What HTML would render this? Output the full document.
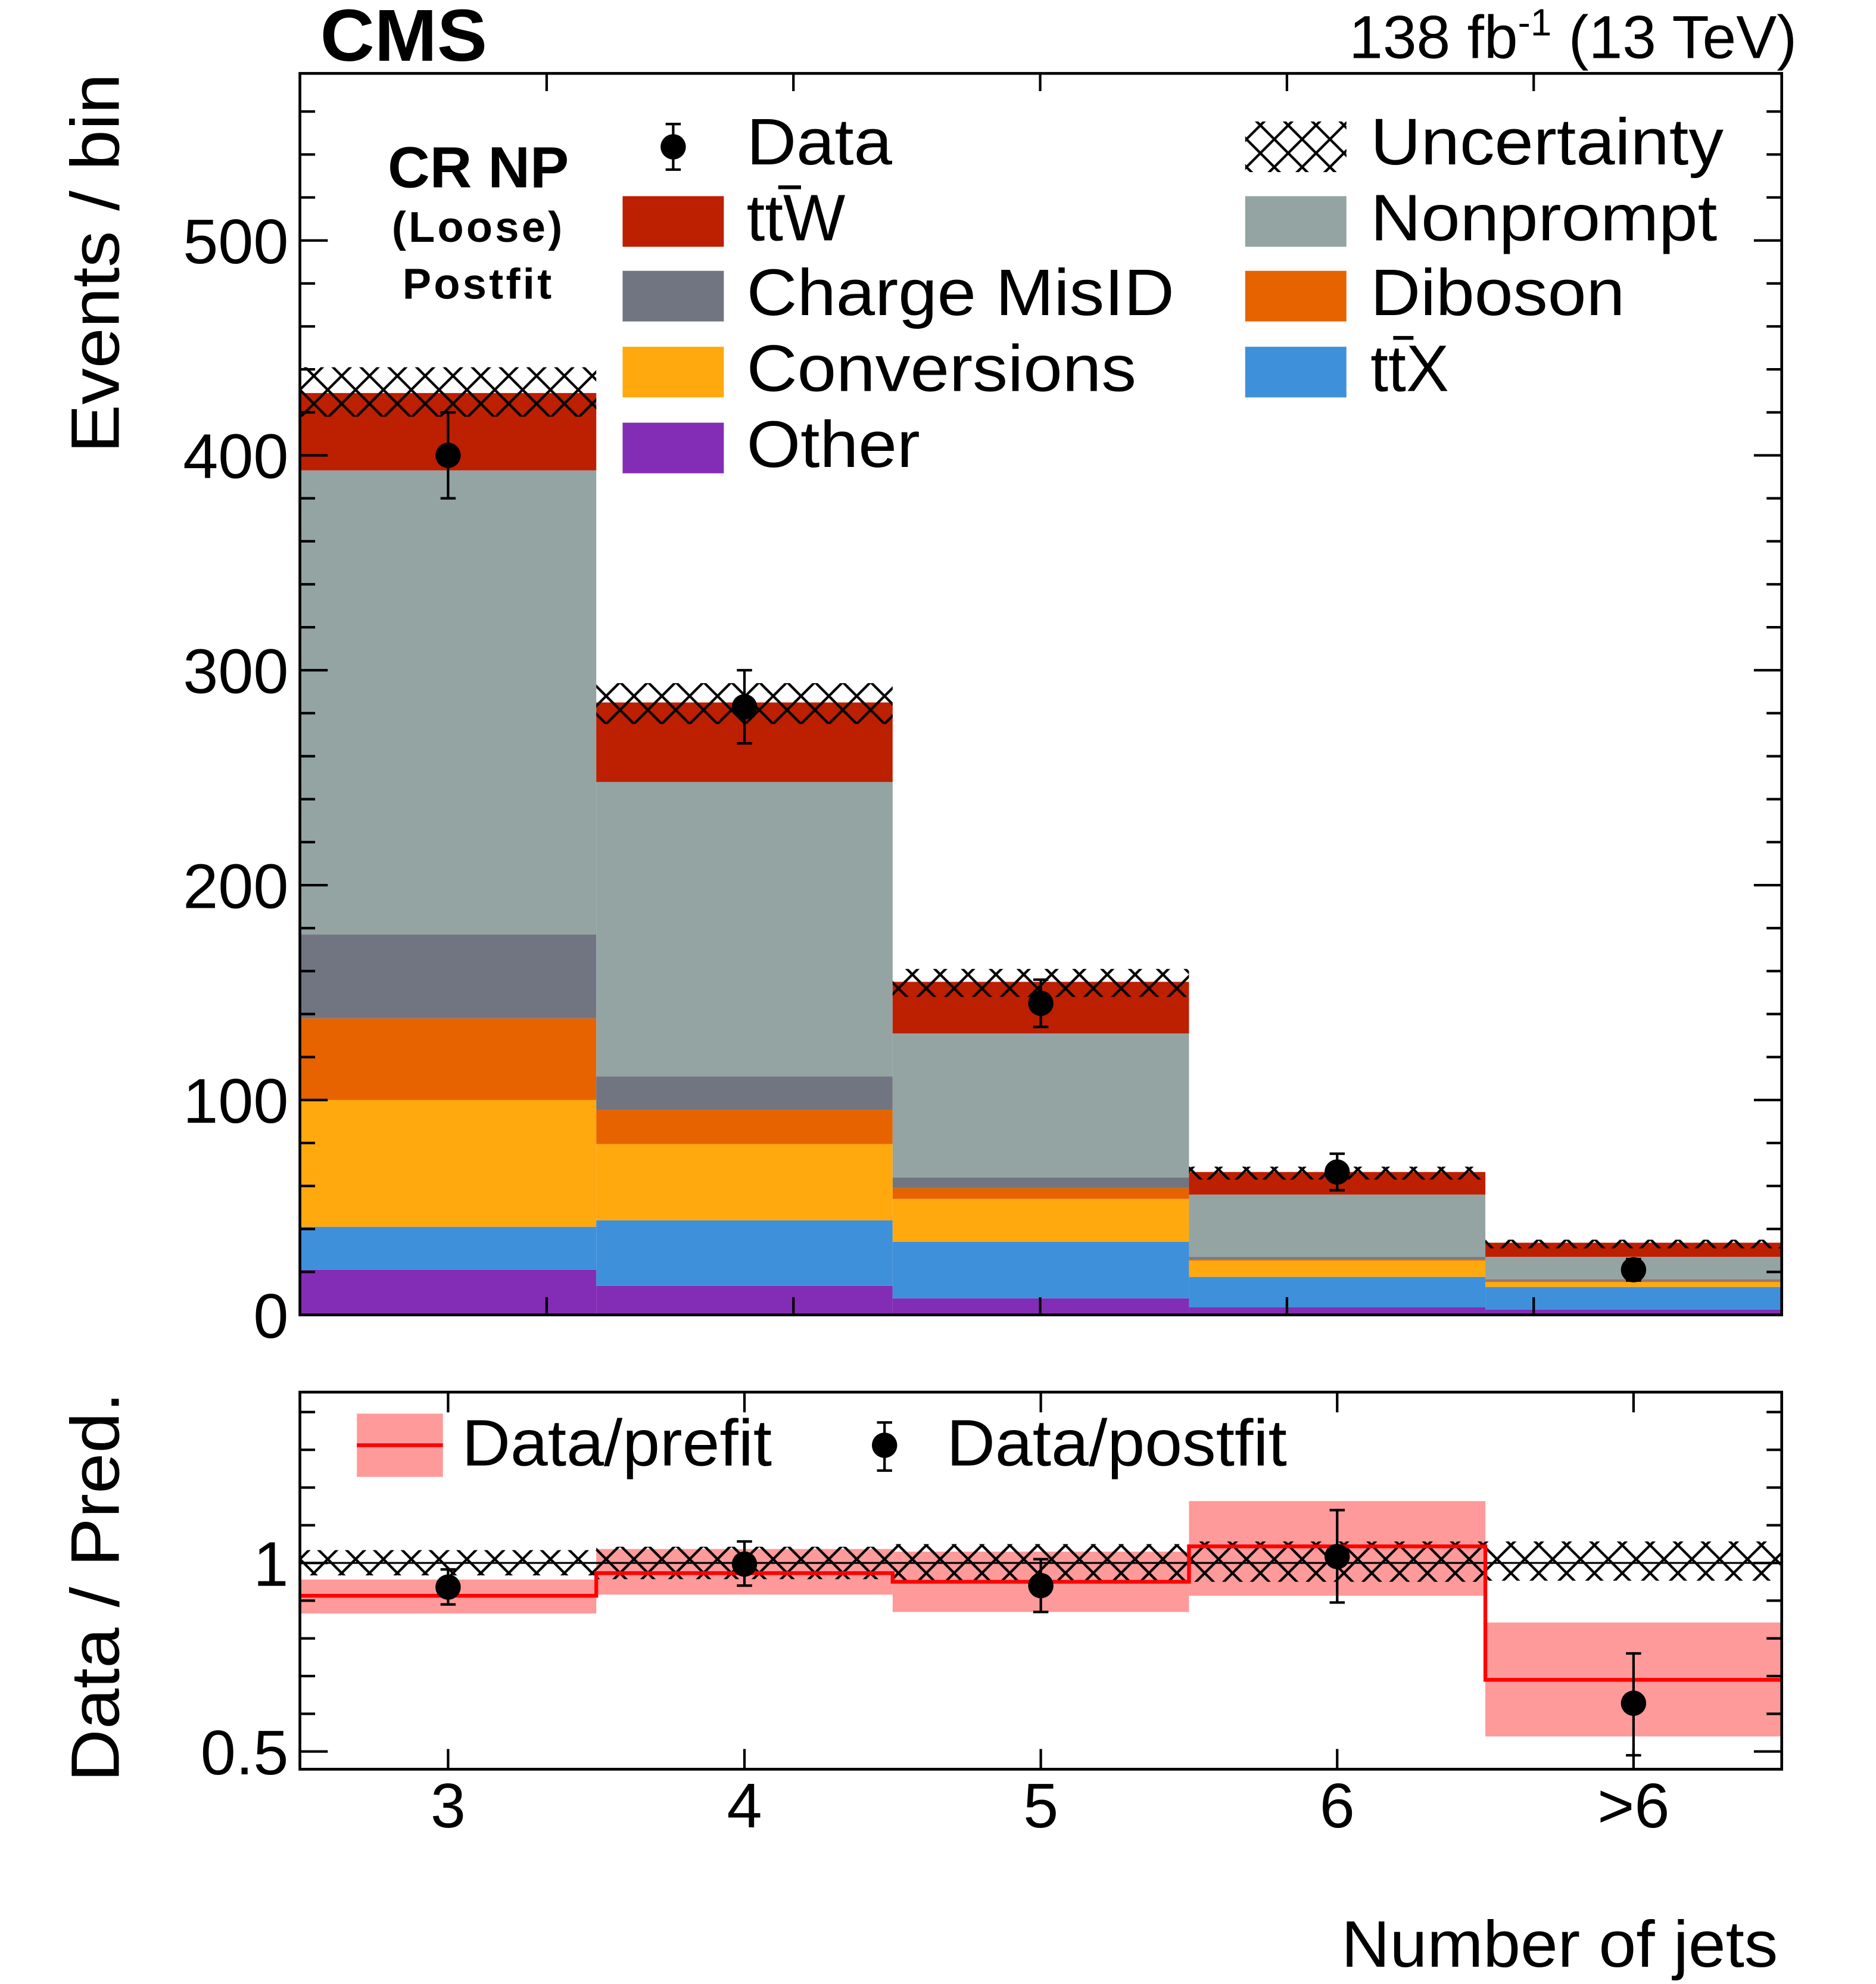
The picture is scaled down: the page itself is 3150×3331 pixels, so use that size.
<!DOCTYPE html>
<html><head><meta charset="utf-8"><style>
html,body{margin:0;padding:0;background:#fff}
svg{display:block}
text{font-family:"Liberation Sans",Arial,sans-serif;fill:#000}
</style></head><body>
<svg id="chart" width="3150" height="3331" viewBox="0 0 1482.5 1567.7" xmlns="http://www.w3.org/2000/svg">
<defs>
<pattern id="hatch" patternUnits="userSpaceOnUse" width="22" height="22" x="237" y="0">
<path d="M0,0 L22,22 M22,0 L0,22" stroke="#000" stroke-width="2" fill="none"/>
</pattern>
</defs>
<g id="upper"></g>
<g id="lower"></g>
<text x="253" y="48" font-size="58" font-weight="bold" textLength="132" lengthAdjust="spacingAndGlyphs">CMS</text>
<text x="1420" y="46" font-size="48" text-anchor="end">138 fb<tspan dy="-18" font-size="30">-1</tspan><tspan dy="18"> (13 TeV)</tspan></text>
<text x="378" y="148" font-size="46" font-weight="bold" text-anchor="middle">CR NP</text>
<text x="378" y="191" font-size="34" font-weight="bold" text-anchor="middle" letter-spacing="2">(Loose)</text>
<text x="378" y="236" font-size="34" font-weight="bold" text-anchor="middle" letter-spacing="2">Postfit</text>
<text transform="translate(94,58) rotate(-90)" font-size="54" text-anchor="end" textLength="300" lengthAdjust="spacingAndGlyphs">Events / bin</text>
<text transform="translate(94,1100) rotate(-90)" font-size="54" text-anchor="end" textLength="308" lengthAdjust="spacingAndGlyphs">Data / Pred.</text>
<text x="1060" y="1554" font-size="52" textLength="345" lengthAdjust="spacingAndGlyphs">Number of jets</text>
<g id="legend"></g>
</svg>
<script>
const categories = ["3","4","5","6",">6"];
const other = [21, 13.5, 7.7, 3.5, 2.4];
const ttx = [20, 30.5, 26.3, 14.2, 10.6];
const conversions = [59, 35.5, 20, 7.6, 2.3];
const diboson = [38, 15.9, 5, 0.7, 0.6];
const chargeMisID = [39, 15.6, 5, 1, 0.6];
const nonprompt = [216, 137, 67, 29, 10.5];
const ttw = [36, 37, 24, 10.5, 6.6];
const uncLo = [418, 275, 148, 63, 31];
const uncHi = [441, 294, 161, 69, 35];
const dataVals = [400, 283, 145, 66.5, 21];
const dataErrLo = [380, 266, 134, 58, 16];
const dataErrHi = [420, 300, 156, 75, 26];
const prefitRatio = [0.913, 0.973, 0.95, 1.044, 0.69];
const prefitLo = [0.866, 0.916, 0.87, 0.913, 0.54];
const prefitHi = [0.956, 1.037, 1.03, 1.164, 0.842];
const postfitRatio = [0.936, 0.997, 0.94, 1.017, 0.628];
const postfitErrLo = [0.89, 0.94, 0.87, 0.895, 0.49];
const postfitErrHi = [0.983, 1.057, 1.01, 1.14, 0.76];
const ratioUncLo = [0.967, 0.957, 0.953, 0.95, 0.953];
const ratioUncHi = [1.034, 1.043, 1.05, 1.057, 1.057];
const yTicks = [0, 100, 200, 300, 400, 500];
const ratioTicks = [0.5, 1];
const ratioTickLabels = ["0.5", "1"];

const NS = "http://www.w3.org/2000/svg";
const X0 = 237, X1 = 1408, UT = 58, UB = 1039, LT = 1100, LB = 1398;
const YMAX = (UB - UT) / 1.698;
const RMIN = 0.453, RMAX = 1.453;
const binW = (X1 - X0) / categories.length;
function xL(i){return X0 + i*binW;}
function xC(i){return X0 + (i+0.5)*binW;}
function yU(v){return UB - v/YMAX*(UB-UT);}
function yR(v){return LB - (v-RMIN)/(RMAX-RMIN)*(LB-LT);}
function mk(tag, attrs, parent){const e=document.createElementNS(NS,tag);for(const k in attrs)e.setAttribute(k,attrs[k]);parent.appendChild(e);return e;}

const upper = document.getElementById('upper');
const lower = document.getElementById('lower');
const stackDefs = [
 ['other', other, '#832db6'], ['ttx', ttx, '#3f90da'], ['conversions', conversions, '#ffa90e'],
 ['diboson', diboson, '#e76300'], ['charge-misid', chargeMisID, '#717581'],
 ['nonprompt', nonprompt, '#94a4a2'], ['ttw', ttw, '#bd1f01']];
for (let i=0;i<categories.length;i++){
  let cum=0;
  for (const [nm, arr, col] of stackDefs){
    const lo=cum, hi=cum+arr[i]; cum=hi;
    const r=mk('rect',{x:xL(i),y:yU(hi),width:binW,height:yU(lo)-yU(hi),fill:col},upper);
    
    
  }
  const h=mk('rect',{x:xL(i),y:yU(uncHi[i]),width:binW,height:yU(uncLo[i])-yU(uncHi[i]),fill:'url(#hatch)'},upper);
  
  
  const g=mk('g',{},upper);
  
  
  mk('line',{x1:xC(i),x2:xC(i),y1:yU(dataErrLo[i]),y2:yU(dataErrHi[i]),stroke:'#000','stroke-width':2},g);
  mk('line',{x1:xC(i)-6,x2:xC(i)+6,y1:yU(dataErrLo[i]),y2:yU(dataErrLo[i]),stroke:'#000','stroke-width':2},g);
  mk('line',{x1:xC(i)-6,x2:xC(i)+6,y1:yU(dataErrHi[i]),y2:yU(dataErrHi[i]),stroke:'#000','stroke-width':2},g);
  mk('circle',{cx:xC(i),cy:yU(dataVals[i]),r:10,fill:'#000'},g);
}
const uf=mk('rect',{x:X0,y:UT,width:X1-X0,height:UB-UT,fill:'none',stroke:'#000','stroke-width':2.2},upper);


for (let v=0; v<=YMAX; v+=20){
  const len = (v%100===0)?22:12, y=yU(v);
  mk('line',{x1:X0,x2:X0+len,y1:y,y2:y,stroke:'#000','stroke-width':2},upper);
  mk('line',{x1:X1,x2:X1-len,y1:y,y2:y,stroke:'#000','stroke-width':2},upper);
}
for (const v of yTicks){
  const t=mk('text',{x:228,y:yU(v)+18,'font-size':50,'text-anchor':'end'},upper);
  
  
  t.textContent=String(v);
}
for (let k=0;k<5;k++){
  const x=432+195*k;
  mk('line',{x1:x,x2:x,y1:UB,y2:UB-14,stroke:'#000','stroke-width':2},upper);
  mk('line',{x1:x,x2:x,y1:UT,y2:UT+14,stroke:'#000','stroke-width':2},upper);
}
for (let i=0;i<categories.length;i++){
  const b=mk('rect',{x:xL(i),y:yR(prefitHi[i]),width:binW,height:yR(prefitLo[i])-yR(prefitHi[i]),fill:'#fe9a9a'},lower);
  
  
}
for (let i=0;i<categories.length;i++){
  const h=mk('rect',{x:xL(i),y:yR(ratioUncHi[i]),width:binW,height:yR(ratioUncLo[i])-yR(ratioUncHi[i]),fill:'url(#hatch)'},lower);
  
  
}
mk('line',{x1:X0,x2:X1,y1:yR(1),y2:yR(1),stroke:'#000','stroke-width':1.5},lower);
let d='';
for (let i=0;i<categories.length;i++){
  d += (i===0?'M':'L')+xL(i)+','+yR(prefitRatio[i])+' L'+xL(i+1)+','+yR(prefitRatio[i])+' ';
}
const pl=mk('path',{d:d,fill:'none',stroke:'#ff0000','stroke-width':3},lower);


for (let i=0;i<categories.length;i++){
  const g=mk('g',{},lower);
  
  
  mk('line',{x1:xC(i),x2:xC(i),y1:yR(postfitErrLo[i]),y2:yR(postfitErrHi[i]),stroke:'#000','stroke-width':2},g);
  mk('line',{x1:xC(i)-6,x2:xC(i)+6,y1:yR(postfitErrLo[i]),y2:yR(postfitErrLo[i]),stroke:'#000','stroke-width':2},g);
  mk('line',{x1:xC(i)-6,x2:xC(i)+6,y1:yR(postfitErrHi[i]),y2:yR(postfitErrHi[i]),stroke:'#000','stroke-width':2},g);
  mk('circle',{cx:xC(i),cy:yR(postfitRatio[i]),r:10,fill:'#000'},g);
}
const lf=mk('rect',{x:X0,y:LT,width:X1-X0,height:LB-LT,fill:'none',stroke:'#000','stroke-width':2.2},lower);


for (let k=5;k<=14;k++){
  const v=k/10, y=yR(v), len=(k%5===0)?22:12;
  mk('line',{x1:X0,x2:X0+len,y1:y,y2:y,stroke:'#000','stroke-width':2},lower);
  mk('line',{x1:X1,x2:X1-len,y1:y,y2:y,stroke:'#000','stroke-width':2},lower);
}
ratioTicks.forEach((v,j)=>{
  const t=mk('text',{x:228,y:yR(v)+18,'font-size':50,'text-anchor':'end'},lower);
  
  
  t.textContent=ratioTickLabels[j];
});
for (let i=0;i<categories.length;i++){
  mk('line',{x1:xC(i),x2:xC(i),y1:LB,y2:LB-16,stroke:'#000','stroke-width':2},lower);
  mk('line',{x1:xC(i),x2:xC(i),y1:LT,y2:LT+16,stroke:'#000','stroke-width':2},lower);
  const t=mk('text',{x:xC(i),y:1444,'font-size':50,'text-anchor':'middle'},lower);
  
  
  t.textContent=categories[i];
}
const lg=document.getElementById('legend');
function legText(x,y,str,len,name){
  const t=mk('text',{x:x,y:y,'font-size':52,textLength:len,lengthAdjust:'spacingAndGlyphs'},lg);
  
  
  t.textContent=str; return t;
}
function legBox(x,y,col,name){
  const r=mk('rect',{x:x,y:y,width:80,height:40,fill:col},lg);
  
  
}
const dm=mk('g',{},lg);


mk('line',{x1:532,x2:532,y1:98,y2:134,stroke:'#000','stroke-width':2},dm);
mk('line',{x1:526,x2:538,y1:98,y2:98,stroke:'#000','stroke-width':2},dm);
mk('line',{x1:526,x2:538,y1:134,y2:134,stroke:'#000','stroke-width':2},dm);
mk('circle',{cx:532,cy:116,r:10,fill:'#000'},dm);
legText(590,130,'Data',115,'legend-data-label');
legBox(492,155,'#bd1f01','legend-ttw-swatch');
legText(590,190,'ttW',78,'legend-ttw-label');
mk('line',{x1:615,x2:633,y1:148,y2:148,stroke:'#000','stroke-width':3},lg);
legBox(492,214,'#717581','legend-charge-misid-swatch');
legText(590,249,'Charge MisID',338,'legend-charge-misid-label');
legBox(492,274,'#ffa90e','legend-conversions-swatch');
legText(590,309,'Conversions',308,'legend-conversions-label');
legBox(492,334,'#832db6','legend-other-swatch');
legText(590,369,'Other',137,'legend-other-label');
const uh=mk('rect',{x:984,y:96,width:80,height:40,fill:'url(#hatch)'},lg);


legText(1083,130,'Uncertainty',279,'legend-uncertainty-label');
legBox(984,155,'#94a4a2','legend-nonprompt-swatch');
legText(1083,190,'Nonprompt',274,'legend-nonprompt-label');
legBox(984,214,'#e76300','legend-diboson-swatch');
legText(1083,249,'Diboson',201,'legend-diboson-label');
legBox(984,274,'#3f90da','legend-ttx-swatch');
legText(1083,309,'ttX',62,'legend-ttx-label');
mk('line',{x1:1101,x2:1117,y1:267,y2:267,stroke:'#000','stroke-width':3},lg);
const rb=mk('rect',{x:282,y:1117,width:68,height:50,fill:'#fe9a9a'},lg);


mk('line',{x1:282,x2:350,y1:1142,y2:1142,stroke:'#ff0000','stroke-width':3},lg);
legText(365,1158,'Data/prefit',245,'legend-prefit-label');
const pm=mk('g',{},lg);


mk('line',{x1:699,x2:699,y1:1124,y2:1162,stroke:'#000','stroke-width':2},pm);
mk('line',{x1:693,x2:705,y1:1124,y2:1124,stroke:'#000','stroke-width':2},pm);
mk('line',{x1:693,x2:705,y1:1162,y2:1162,stroke:'#000','stroke-width':2},pm);
mk('circle',{cx:699,cy:1142,r:10,fill:'#000'},pm);
legText(748,1158,'Data/postfit',269,'legend-postfit-label');
</script>
</body></html>
